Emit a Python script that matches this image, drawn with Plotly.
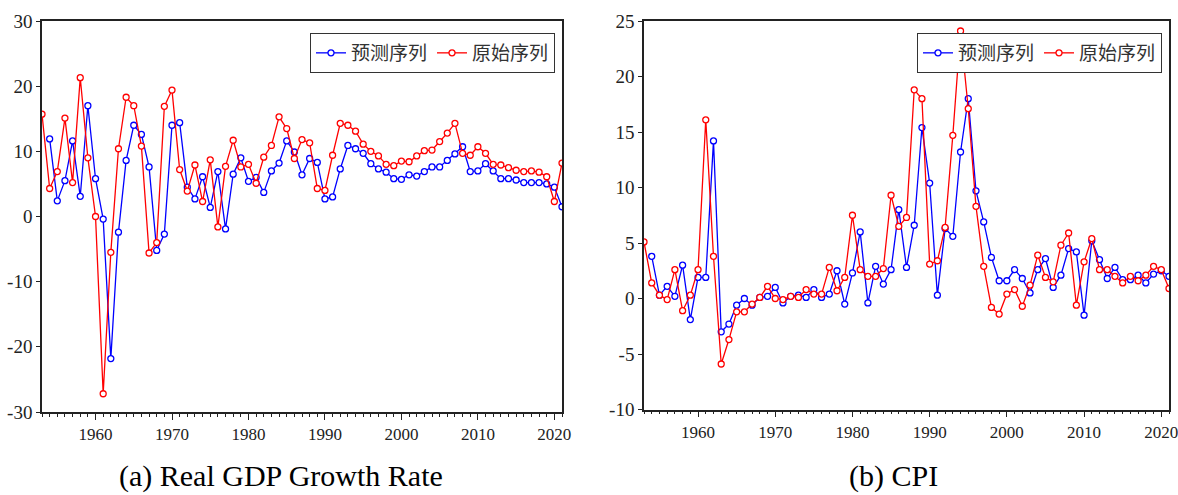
import plotly.graph_objects as go

# Years shared by both panels
years = list(range(1953, 2022))

# (a) Real GDP growth rate, %
gdp_actual = [15.7, 4.3, 6.9, 15.1, 5.2, 21.3, 9.0, 0.0, -27.2, -5.5,
              10.4, 18.3, 17.0, 10.8, -5.6, -4.0, 16.9, 19.4, 7.2, 3.9,
              7.9, 2.3, 8.7, -1.6, 7.7, 11.7, 7.6, 8.0, 5.1, 9.1,
              10.9, 15.3, 13.5, 8.9, 11.8, 11.3, 4.3, 4.0, 9.4, 14.3,
              14.0, 13.1, 11.1, 10.0, 9.3, 8.0, 7.8, 8.5, 8.4, 9.3,
              10.1, 10.2, 11.5, 12.8, 14.3, 9.7, 9.4, 10.7, 9.7, 8.0,
              7.9, 7.5, 7.1, 6.9, 7.0, 6.8, 6.1, 2.3, 8.2]
gdp_pred = [11.9, 2.4, 5.5, 11.6, 3.1, 17.0, 5.8, -0.4, -21.8, -2.4,
            8.6, 14.0, 12.6, 7.6, -5.2, -2.7, 14.0, 14.4, 4.5, 2.7,
            6.1, 1.4, 6.9, -1.9, 6.5, 9.0, 5.4, 6.0, 3.7, 7.0,
            8.2, 11.6, 9.9, 6.4, 8.9, 8.3, 2.7, 3.0, 7.3, 10.9,
            10.4, 9.7, 8.1, 7.3, 6.8, 5.8, 5.7, 6.4, 6.2, 6.9,
            7.6, 7.6, 8.6, 9.6, 10.7, 6.9, 7.0, 8.1, 7.0, 5.8,
            5.8, 5.6, 5.2, 5.2, 5.2, 5.0, 4.5, 1.5]

# (b) CPI, %
cpi_actual = [5.1, 1.4, 0.3, -0.1, 2.6, -1.1, 0.3, 2.6, 16.1, 3.8,
              -5.9, -3.7, -1.2, -1.2, -0.5, 0.1, 1.1, 0.0, -0.1, 0.2,
              0.1, 0.8, 0.4, 0.4, 2.8, 0.7, 1.9, 7.5, 2.6, 2.0,
              2.0, 2.7, 9.3, 6.5, 7.3, 18.8, 18.0, 3.1, 3.4, 6.4,
              14.7, 24.1, 17.1, 8.3, 2.9, -0.8, -1.4, 0.4, 0.8, -0.7,
              1.2, 3.9, 1.9, 1.5, 4.8, 5.9, -0.6, 3.3, 5.4, 2.6,
              2.6, 2.0, 1.4, 2.0, 1.6, 2.1, 2.9, 2.6, 0.9]
cpi_pred = [3.8, 0.3, 1.1, 0.2, 3.0, -1.9, 1.9, 1.9, 14.2, -3.0,
            -2.3, -0.6, 0.0, -0.6, 0.1, 0.2, 1.0, -0.4, 0.2, 0.3,
            0.1, 0.8, 0.1, 0.4, 2.5, -0.5, 2.3, 6.0, -0.4, 2.9,
            1.3, 2.6, 8.0, 2.8, 6.6, 15.4, 10.4, 0.3, 6.3, 5.6,
            13.2, 18.0, 9.7, 6.9, 3.7, 1.6, 1.6, 2.6, 1.8, 0.5,
            2.6, 3.6, 1.0, 2.1, 4.5, 4.2, -1.5, 5.2, 3.5, 1.8,
            2.8, 1.7, 1.7, 2.1, 1.4, 2.2, 2.5, 2.0]

# Axis tick values
year_ticks = [1960, 1970, 1980, 1990, 2000, 2010, 2020]
gdp_ticks = [-30, -20, -10, 0, 10, 20, 30]
cpi_ticks = [-10, -5, 0, 5, 10, 15, 20, 25]

pred_name = "预测序列"
actual_name = "原始序列"
captions = ["(a) Real GDP Growth Rate", "(b) CPI"]

W, H = 1178, 495
BLUE, RED = "#0000ff", "#ff0000"
INK = "#222222"
SERIF = "Liberation Serif, Times New Roman, serif"
CJK = "Noto Sans CJK SC, sans-serif"


def series(x, y, name, color, xa, ya, legend):
    return go.Scatter(
        x=x, y=y, name=name, mode="lines+markers",
        line=dict(color=color, width=1.3),
        marker=dict(symbol="circle", size=6, color="white",
                    line=dict(color=color, width=1.3)),
        xaxis=xa, yaxis=ya, legend=legend,
    )


fig = go.Figure()
fig.add_trace(series(years[1:], gdp_pred, pred_name, BLUE, "x", "y", "legend"))
fig.add_trace(series(years, gdp_actual, actual_name, RED, "x", "y", "legend"))
fig.add_trace(series(years[1:], cpi_pred, pred_name, BLUE, "x2", "y2", "legend2"))
fig.add_trace(series(years, cpi_actual, actual_name, RED, "x2", "y2", "legend2"))


def xaxis(domain, anchor):
    return dict(
        domain=domain, anchor=anchor, range=[years[0], years[-1]],
        automargin=False, ticklabeloverflow="allow",
        tickmode="array", tickvals=year_ticks, ticktext=[str(v) for v in year_ticks],
        ticks="outside", ticklen=6, tickwidth=1.2, tickcolor=INK,
        minor=dict(dtick=1, tick0=years[0], ticks="outside", ticklen=3,
                   tickwidth=1, tickcolor=INK),
        showline=True, linecolor=INK, linewidth=1.6, mirror=True,
        showgrid=False, zeroline=False,
        tickfont=dict(family=SERIF, size=17, color=INK),
    )


def yaxis(domain, anchor, vals):
    return dict(
        domain=domain, anchor=anchor, range=[vals[0], vals[-1]],
        automargin=False,
        tickmode="array", tickvals=vals, ticktext=[str(v) for v in vals],
        ticks="outside", ticklen=4, tickwidth=1.2, tickcolor=INK,
        showline=True, linecolor=INK, linewidth=1.6, mirror=True,
        showgrid=False, zeroline=False,
        tickfont=dict(family=SERIF, size=19, color=INK),
    )


def legend_box(x_right, y_top):
    return dict(
        orientation="h", x=x_right, y=y_top, xanchor="right", yanchor="top",
        bgcolor="white", bordercolor="#333", borderwidth=1,
        font=dict(family=CJK, size=19, color="#333"),
        itemwidth=30, tracegroupgap=0,
    )


fig.update_layout(
    template="none",
    width=W, height=H,
    margin=dict(l=0, r=0, t=0, b=0, pad=0, autoexpand=False),
    paper_bgcolor="white", plot_bgcolor="white",
    xaxis=xaxis([42 / W, 562 / W], "y"),
    yaxis=yaxis([1 - 412 / H, 1 - 21 / H], "x", gdp_ticks),
    xaxis2=xaxis([644 / W, 1169 / W], "y2"),
    yaxis2=yaxis([1 - 409.5 / H, 1 - 21 / H], "x2", cpi_ticks),
    legend=legend_box(555 / W, 1 - 33 / H),
    legend2=legend_box(1162 / W, 1 - 33 / H),
    annotations=[
        dict(text=captions[0], x=281 / W, y=1 - 476 / H, xref="paper", yref="paper",
             showarrow=False, xanchor="center", yanchor="middle",
             font=dict(family=SERIF, size=30, color="black")),
        dict(text=captions[1], x=893 / W, y=1 - 476 / H, xref="paper", yref="paper",
             showarrow=False, xanchor="center", yanchor="middle",
             font=dict(family=SERIF, size=30, color="black")),
    ],
)

fig.write_html("out.html")
